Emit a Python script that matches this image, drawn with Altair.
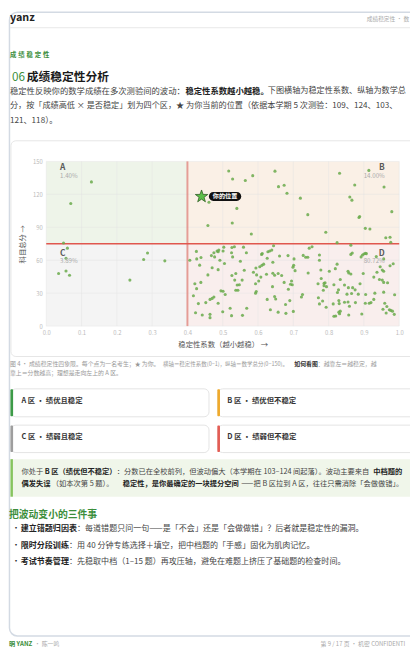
import altair as alt
import pandas as pd

FONT = "Noto Sans CJK SC"
GREEN = "#3b8e3b"

# ---------------- data ----------------
stability = [
    # A
    0.128, 0.0695, 0.049,
    # C
    0.060, 0.056, 0.035, 0.056, 0.066, 0.276, 0.287, 0.336, 0.237,
    # B
    0.461, 0.458, 0.517, 0.528, 0.564, 0.585, 0.648, 0.658, 0.674, 0.682,
    0.540, 0.527, 0.581, 0.720, 0.741, 0.831, 0.860, 0.874, 0.866, 0.886,
    0.888, 0.792, 0.824, 0.904, 0.917, 0.914, 0.957, 0.979, 0.962, 0.974, 0.976,
    # D
    0.4254, 0.4384, 0.4263, 0.4068, 0.4346, 0.468, 0.477, 0.475, 0.484, 0.489,
    0.487, 0.503, 0.501, 0.526, 0.533, 0.525, 0.528, 0.492, 0.505, 0.470,
    0.487, 0.458, 0.526, 0.537, 0.534, 0.541, 0.438, 0.421, 0.426, 0.495,
    0.501, 0.507, 0.537, 0.543, 0.417, 0.475, 0.470, 0.464, 0.452, 0.431,
    0.487, 0.521, 0.423, 0.442, 0.464, 0.464, 0.500, 0.525,
    0.5588, 0.567, 0.550, 0.561, 0.610, 0.612, 0.628, 0.633, 0.639, 0.644,
    0.626, 0.661, 0.685, 0.642, 0.616, 0.611, 0.605, 0.594, 0.587, 0.596,
    0.608, 0.602, 0.593, 0.624, 0.642, 0.647, 0.657, 0.667, 0.674, 0.695,
    0.692, 0.641, 0.555, 0.547, 0.595, 0.593, 0.686, 0.647, 0.650, 0.626,
    0.690, 0.678, 0.568, 0.635, 0.657, 0.679, 0.556,
    0.745, 0.753, 0.728, 0.735, 0.741, 0.702, 0.774, 0.774, 0.701, 0.699,
    0.705, 0.742, 0.778, 0.802, 0.819, 0.824, 0.779, 0.770, 0.787, 0.790,
    0.787, 0.794, 0.785, 0.815, 0.833, 0.845, 0.828, 0.825, 0.697, 0.726,
    0.723, 0.771, 0.783, 0.774, 0.793, 0.813, 0.829, 0.830, 0.845, 0.700,
    0.815, 0.820, 0.829, 0.833, 0.831,
    0.863, 0.867, 0.896, 0.900, 0.904, 0.907, 0.892, 0.935, 0.956, 0.974,
    0.983, 0.946, 0.952, 0.956, 0.855, 0.857, 0.863, 0.898, 0.928, 0.944,
    0.952, 0.956, 0.967, 0.937, 0.889, 0.856, 0.868, 0.875, 0.852, 0.865,
    0.884, 0.905, 0.931, 0.956, 0.987, 0.928, 0.920, 0.915, 0.904, 0.876,
    0.855, 0.859, 0.959, 0.965, 0.954, 0.972, 0.976, 0.981, 0.963, 0.894,
    0.857, 0.986, 0.863,
]
score = [
    # A
    131.3, 111.7, 75.7,
    # C
    71.0, 61.8, 47.9, 50.2, 46.3, 60.6, 66.6, 59.4, 41.9,
    # B
    112.8, 91.6, 141.2, 134.0, 132.6, 137.0, 141.1, 127.0, 128.2, 121.0,
    107.2, 93.9, 83.8, 116.5, 101.5, 139.2, 117.6, 128.5, 114.7, 98.9,
    99.8, 85.5, 76.0, 89.0, 88.4, 141.8, 126.6, 104.2, 80.5, 80.9, 76.3,
    # D
    68.0, 62.4, 61.2, 60.0, 55.5, 64.2, 63.0, 66.8, 68.4, 69.2,
    67.7, 71.9, 68.4, 71.6, 72.2, 66.8, 63.0, 60.0, 57.0, 53.2,
    51.4, 46.6, 46.1, 47.9, 41.9, 37.4, 39.8, 38.6, 34.1, 32.1,
    31.8, 28.8, 32.7, 32.7, 27.6, 26.5, 25.2, 24.3, 21.4, 20.5,
    20.8, 16.3, 12.2, 10.1, 10.7, 7.7, 13.1, 9.5,
    71.9, 66.8, 59.1, 50.8, 65.3, 66.0, 67.7, 68.4, 69.2, 73.1,
    61.8, 63.9, 64.2, 58.2, 56.4, 55.3, 54.1, 52.9, 49.0, 46.6,
    44.6, 41.0, 38.6, 47.2, 48.1, 46.3, 47.9, 46.1, 39.8, 41.0,
    38.1, 35.9, 41.9, 37.7, 31.5, 30.0, 33.6, 27.0, 24.7, 24.3,
    23.2, 19.6, 16.3, 14.9, 12.7, 11.6, 9.8,
    71.0, 72.2, 64.4, 62.7, 62.7, 61.2, 64.8, 60.0, 55.3, 53.7,
    50.5, 48.4, 51.1, 49.9, 52.3, 56.4, 43.4, 38.6, 38.9, 39.5,
    36.8, 35.9, 32.7, 37.7, 42.5, 37.4, 33.0, 30.6, 37.7, 28.8,
    26.5, 25.8, 22.9, 20.2, 17.2, 20.2, 23.2, 20.5, 21.7, 13.4,
    8.9, 9.2, 12.7, 13.6, 11.3,
    65.3, 66.6, 64.8, 65.7, 66.2, 66.0, 63.0, 63.3, 61.2, 55.0,
    56.8, 54.1, 51.1, 49.9, 49.9, 48.4, 47.5, 47.9, 44.6, 42.5,
    41.9, 39.8, 39.5, 49.0, 38.6, 35.0, 35.0, 33.0, 29.1, 29.7,
    29.1, 28.8, 30.0, 30.9, 28.5, 24.3, 21.4, 20.8, 20.8, 21.4,
    22.0, 18.1, 20.8, 17.8, 15.4, 14.9, 14.3, 13.6, 11.9, 11.0,
    10.1, 10.7, 73.7,
]

quad_names = ["A", "B", "C", "D"]
quad_pcts = ["1.40%", "14.00%", "3.89%", "80.72%"]
quad_x0 = [0.0, 0.4, 0.0, 0.4]
quad_x1 = [0.4, 1.0, 0.4, 1.0]
quad_y0 = [75, 75, 0, 0]
quad_y1 = [150, 150, 75, 75]
quad_fill = ["#eef4e9", "#faf0e6", "#f4f4f4", "#f9eeed"]

x_ticks = [0.0, 0.1, 0.2, 0.3, 0.4, 0.5, 0.6, 0.7, 0.8, 0.9, 1.0]
y_ticks = [0, 30, 60, 90, 120, 150]

split_x = [0.4]
split_y = [75]
star_x = [0.44]
star_y = [118]
star_label = ["你的位置"]

# ---------------- page geometry ----------------
OX, OY = 47, 158          # plot-area origin on the page
PW, PH = 360, 168         # plot-area size
one = pd.DataFrame({"k": [0]})

STAR = ("M0,-1 L0.235,-0.324 L0.951,-0.309 L0.380,0.124 L0.588,0.809 "
        "L0,0.4 L-0.588,0.809 L-0.380,0.124 L-0.951,-0.309 L-0.235,-0.324 Z")
PILL = ("M0.7272,-0.2727 L2.1818,-0.2727 A0.2727,0.2727 0 0 1 2.1818,0.2727 "
        "L0.7272,0.2727 A0.2727,0.2727 0 0 1 0.7272,-0.2727 Z")


def box(x1, y1, x2, y2, fill="white", stroke=None, sw=1, r=0):
    kw = dict(fill=fill, strokeWidth=sw, cornerRadius=r)
    if stroke:
        kw["stroke"] = stroke
    return alt.Chart(one).mark_rect(**kw).encode(
        x=alt.value(x1 - OX), x2=alt.value(x2 - OX),
        y=alt.value(y1 - OY), y2=alt.value(y2 - OY))


def hline(x1, x2, y, color, sw=1):
    return alt.Chart(one).mark_rule(color=color, strokeWidth=sw).encode(
        x=alt.value(x1 - OX), x2=alt.value(x2 - OX),
        y=alt.value(y - OY), y2=alt.value(y - OY))


def T(s, x, y, size, color, bold=False, align="left", baseline="middle"):
    return alt.Chart(one).mark_text(
        text=s, font=FONT, fontSize=size, color=color,
        fontWeight="bold" if bold else "normal",
        align=align, baseline=baseline).encode(
        x=alt.value(x - OX), y=alt.value(y - OY))


AX_X = alt.Axis(values=x_ticks, format=".1f", title="稳定性系数（越小越稳） →",
                grid=False, domain=False, ticks=False, labelFlush=False,
                labelFontSize=6, labelColor="#bbbbbb", labelPadding=4,
                labelFont=FONT, titleFont=FONT, titleFontSize=7.5,
                titleColor="#555555", titleFontWeight="normal",
                titlePadding=5, zindex=1)
AX_Y = alt.Axis(values=y_ticks, title="科目总分 →",
                grid=False, domain=False, ticks=False, labelFlush=False,
                labelFontSize=6, labelColor="#bbbbbb", labelPadding=4,
                labelFont=FONT, titleFont=FONT, titleFontSize=7.5,
                titleColor="#555555", titleFontWeight="normal",
                titlePadding=6, zindex=1)
SX = alt.Scale(domain=[0, 1], nice=False, zero=False)
SY = alt.Scale(domain=[0, 150], nice=False)


def X(f):
    return alt.X(f, type="quantitative", scale=SX, axis=AX_X)


def Y(f):
    return alt.Y(f, type="quantitative", scale=SY, axis=AX_Y)


layers = []

# page frame, header line, chart card, tiles
layers.append(box(9.5, 6, 440, 642, fill="white", stroke="#d3dae3", sw=1.5, r=8))
layers.append(hline(10, 440, 21.7, "#e8e8e8"))
layers.append(box(11, 137, 440, 357, fill="white", stroke="#e6e6e6", sw=1, r=5))

tiles = [(11, 390, 213, 418.5, "#3d9b47"), (222, 390, 440, 418.5, "#efaa2c"),
         (11, 427, 213, 455, "#9e9e9e"), (222, 427, 440, 455, "#e35d55")]
for x1, y1, x2, y2, c in tiles:
    layers.append(box(x1, y1, x2, y2, fill="white", stroke="#e3e3e3", sw=1, r=5))
    layers.append(box(x1 - 0.5, y1 + 0.5, x1 + 2.2, y2 - 0.5, fill=c, r=1))

layers.append(box(11, 461.7, 440, 500, fill="#f0f6ea"))
layers.append(box(10.5, 461.7, 13, 500, fill="#86c45e"))

# quadrant backgrounds
quad_df = pd.DataFrame({"x0": quad_x0, "x1": quad_x1, "y0": quad_y0,
                        "y1": quad_y1, "fill": quad_fill})
layers.append(alt.Chart(quad_df).mark_rect().encode(
    x=X("x0"), x2="x1", y=Y("y0"), y2="y1",
    color=alt.Color("fill:N", scale=None)))

# grid
layers.append(alt.Chart(pd.DataFrame({"t": x_ticks})).mark_rule(
    color="#e4e4e4", strokeWidth=0.6, opacity=0.8).encode(x=X("t")))
layers.append(alt.Chart(pd.DataFrame({"t": y_ticks})).mark_rule(
    color="#e4e4e4", strokeWidth=0.6, opacity=0.8).encode(y=Y("t")))

# split lines
layers.append(alt.Chart(pd.DataFrame({"v": split_x})).mark_rule(
    color="#e07a72", strokeWidth=2, opacity=0.7).encode(x=X("v")))
layers.append(alt.Chart(pd.DataFrame({"v": split_y})).mark_rule(
    color="#e0574e", strokeWidth=1.5).encode(y=Y("v")))

# students
pts = pd.DataFrame({"s": stability, "score": score})
layers.append(alt.Chart(pts).mark_circle(
    size=10, color="#6aaa4b", opacity=0.85).encode(x=X("s"), y=Y("score")))

# star + label
star_df = pd.DataFrame({"s": star_x, "score": star_y, "lab": star_label})
layers.append(alt.Chart(star_df).mark_point(
    shape=STAR, size=178, filled=True, fill="#5cbf4a", stroke="#2f5e22",
    strokeWidth=0.8, opacity=1).encode(x=X("s"), y=Y("score")))
layers.append(alt.Chart(star_df).mark_point(
    shape=PILL, size=1089, filled=True, fill="#111111", opacity=1,
    strokeWidth=0).encode(x=X("s"), y=Y("score")))
layers.append(alt.Chart(star_df).mark_text(
    font=FONT, fontSize=6.3, color="white", fontWeight="bold", dx=24,
    align="center", baseline="middle").encode(x=X("s"), y=Y("score"), text="lab:N"))

# quadrant labels
ql = pd.DataFrame({"n": quad_names, "p": quad_pcts,
                   "lx": [0.039, 0.959, 0.039, 0.959],
                   "ly": [145.0, 145.0, 66.8, 66.8],
                   "py": [137.1, 137.1, 59.1, 59.1]})
for names, al in ((["A", "C"], "left"), (["B", "D"], "right")):
    sub = ql[ql["n"].isin(names)]
    layers.append(alt.Chart(sub).mark_text(
        font=FONT, fontSize=8.5, fontWeight="bold", color="#5a5a5a",
        align=al, baseline="middle").encode(x=X("lx"), y=Y("ly"), text="n:N"))
    layers.append(alt.Chart(sub).mark_text(
        font=FONT, fontSize=6.3, color="#aaaaaa",
        align=al, baseline="middle").encode(x=X("lx"), y=Y("py"), text="p:N"))

# ---------------- page text ----------------
TXT = "#444444"
BLD = "#222222"
CAP = "#999999"
layers.append(T("yanz", 10, 15, 11, "#222222", bold=True, baseline="alphabetic"))
layers.append(T("成绩稳定性 · 数", 374, 12.7, 5.8, "#aaaaaa"))
for i, ch in enumerate("成绩稳定性"):
    layers.append(T(ch, 10 + i * 8.4, 50, 6.5, GREEN, bold=True))
layers.append(T("06", 12, 72, 12, GREEN))
layers.append(T("成绩稳定性分析", 27, 72, 12, "#1a1a1a", bold=True))

layers.append(T("稳定性反映你的数学成绩在多次测验间的波动：", 10, 86, 8.5, TXT))
layers.append(T("稳定性系数越小越稳。", 189, 86, 8.5, BLD, bold=True))
layers.append(T("下图横轴为稳定性系数、纵轴为数学总", 273, 86, 8.3, TXT))
layers.append(T("分，按「成绩高低 × 是否稳定」划为四个区，★ 为你当前的位置（依据本学期 5 次测验：109、124、103、",
                10, 101.7, 8.3, TXT))
layers.append(T("121、118）。", 10, 116.7, 8.3, TXT))

layers.append(T("图 4 · 成绩稳定性四象限。每个点为一名考生；★ 为你。", 10, 364.3, 6.0, CAP))
layers.append(T("横轴＝稳定性系数(0−1)，纵轴＝数学总分(0−150)。", 166, 364.3, 5.6, CAP))
layers.append(T("如何看图", 300, 364.3, 6.0, "#333333", bold=True))
layers.append(T("：越靠左＝越稳定，越", 324, 364.3, 6.0, CAP))
layers.append(T("靠上＝分数越高；理想是走向左上的 A 区。", 10, 373.7, 6.0, CAP))

layers.append(T("A 区 · 绩优且稳定", 21.7, 402.7, 7.5, "#333333", bold=True))
layers.append(T("B 区 · 绩优但不稳定", 231.7, 402.7, 7.5, "#333333", bold=True))
layers.append(T("C 区 · 绩弱且稳定", 21.7, 439.3, 7.5, "#333333", bold=True))
layers.append(T("D 区 · 绩弱但不稳定", 231.7, 439.3, 7.5, "#333333", bold=True))

layers.append(T("你处于", 21.7, 475, 7.4, TXT))
layers.append(T("B 区（绩优但不稳定）", 45.5, 475, 7.4, BLD, bold=True))
layers.append(T("：分数已在全校前列，但波动偏大（本学期在 103–124 间起落）。波动主要来自",
                119, 475, 7.4, TXT))
layers.append(T("中档题的", 380.5, 475, 7.4, BLD, bold=True))
layers.append(T("偶发失误", 21.7, 487, 7.4, BLD, bold=True))
layers.append(T("（如本次第 5 题）。", 52.7, 487, 7.4, TXT))
layers.append(T("稳定性，是你最确定的一块提分空间", 125, 487, 7.4, BLD, bold=True))
layers.append(T("——把 B 区拉到 A 区，往往只需消除「会做做错」。", 246, 487, 7.4, TXT))

layers.append(T("把波动变小的三件事", 9, 518.3, 10, GREEN, bold=True))
bullets = [("建立错题归因表", "：每道错题只问一句——是「不会」还是「会做做错」？后者就是稳定性的漏洞。", 533),
           ("限时分段训练", "：用 40 分钟专练选择＋填空，把中档题的「手感」固化为肌肉记忆。", 550),
           ("考试节奏管理", "：先稳取中档（1–15 题）再攻压轴，避免在难题上挤压了基础题的检查时间。", 567)]
for b, rest, y in bullets:
    layers.append(T("•", 12, y, 8.2, BLD))
    layers.append(T(b, 21, y, 8.2, BLD, bold=True))
    layers.append(T(rest, 21 + len(b) * 8.2, y, 8.2, TXT))

layers.append(T("明 YANZ", 9, 650, 6.3, GREEN, bold=True))
layers.append(T("· 陈一鸣", 35, 650, 6, "#aaaaaa"))
layers.append(T("第 9 / 17 页 · 机密 CONFIDENTI", 326.7, 650, 6, "#aaaaaa"))

chart = alt.layer(*layers).properties(
    width=PW, height=PH,
    padding={"left": OX - 8, "top": OY - 8, "right": 410 - (OX - 8) - PW,
             "bottom": 646 - (OY - 8) - PH},
    autosize="none",
).configure_view(stroke=None).configure(font=FONT)

chart.save("out.html", embed_options={"renderer": "svg", "actions": False})
